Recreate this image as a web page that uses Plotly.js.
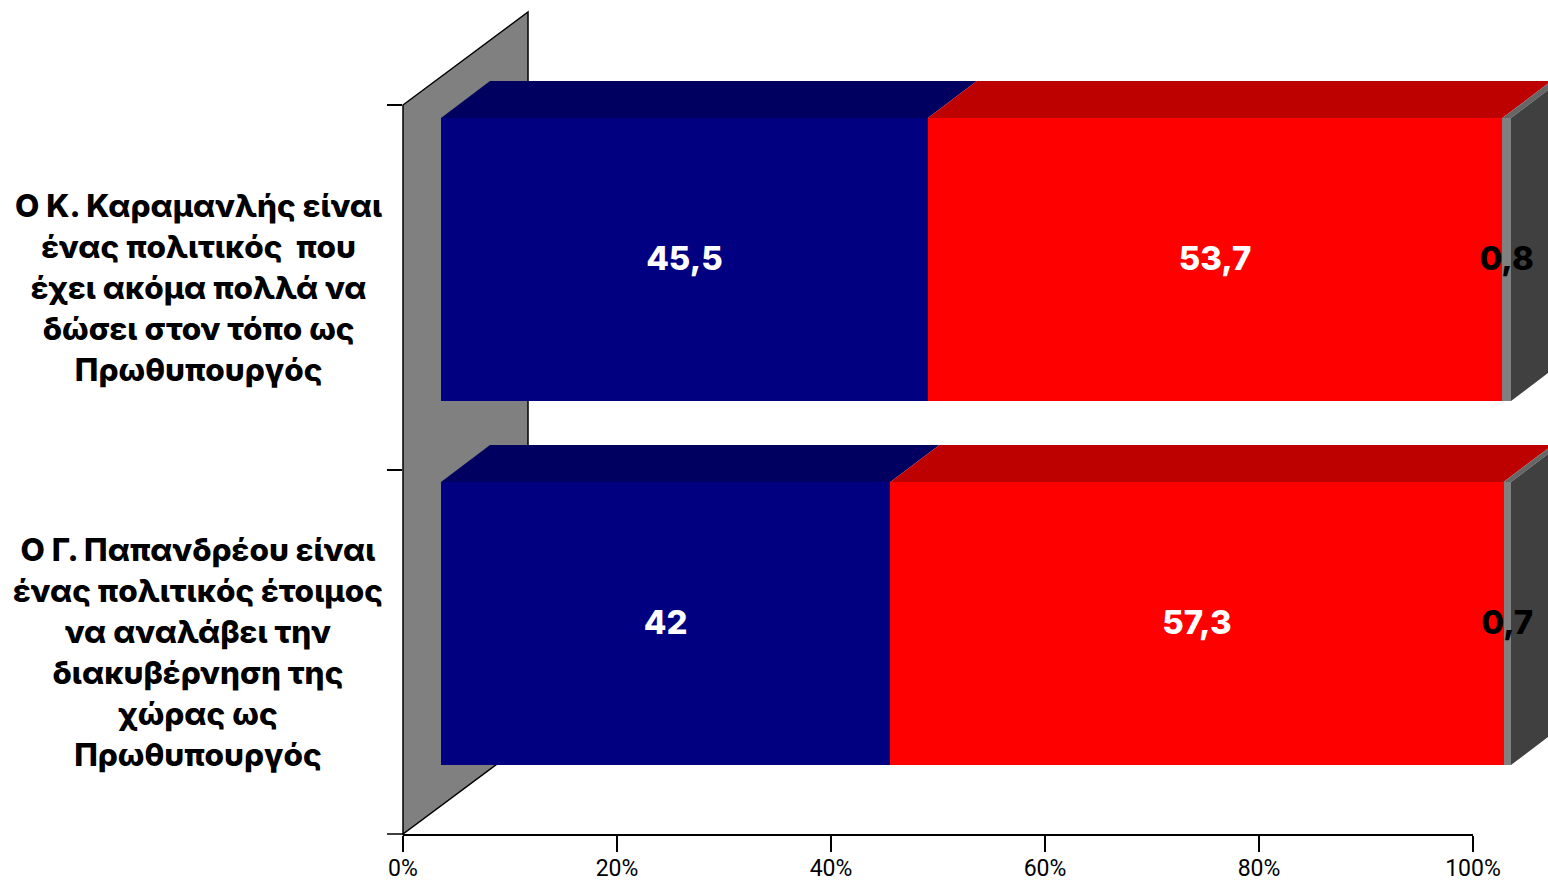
<!DOCTYPE html>
<html>
<head>
<meta charset="utf-8">
<script src="https://cdn.plot.ly/plotly-3.0.1.min.js"></script>
<style>html,body{margin:0;padding:0;background:#fff;overflow:hidden}</style>
</head>
<body>
<div id="chart" style="width:1548px;height:881px"></div>
<script>
// ---- data ----
var categories = [
  "Ο Κ. Καραμανλής είναι<br>ένας πολιτικός  που<br>έχει ακόμα πολλά να<br>δώσει στον τόπο ως<br>Πρωθυπουργός",
  "Ο Γ. Παπανδρέου είναι<br>ένας πολιτικός έτοιμος<br>να αναλάβει την<br>διακυβέρνηση της<br>χώρας ως<br>Πρωθυπουργός"
];
var seriesBlue = [45.5, 42];
var seriesRed  = [53.7, 57.3];
var seriesGrey = [0.8, 0.7];
var tickValues = [0, 20, 40, 60, 80, 100];

// ---- geometry / style ----
var W = 1548, H = 881;
var pxPerPct = 10.7, pxPerCat = 364;
var frontX0 = 441, frontY0 = 259.5;
var depthX = 49 / pxPerPct, depthY = 37 / pxPerCat;
var barW = 283 / pxPerCat;
var labelNudge = 2.5 / pxPerCat;
var FONT = 'Inter, "DejaVu Sans", sans-serif';
var TICKFONT = 'Roboto, "Noto Sans", sans-serif';
var colors = [
  {front: '#000080', top: '#000060', name: 'blue'},
  {front: '#FF0000', top: '#BD0000', name: 'red'},
  {front: '#808080', top: '#666666', name: 'grey'}
];
var seriesAll = [seriesBlue, seriesRed, seriesGrey];
var yIdx = categories.map(function (_, i) { return i; });

var traces = [];
traces.push({type: 'scatter', mode: 'markers', x: tickValues.slice(0, 2), y: categories,
  xaxis: 'x', yaxis: 'y', marker: {opacity: 0}, hoverinfo: 'skip', showlegend: false});

seriesAll.forEach(function (s, k) {
  traces.push({type: 'bar', orientation: 'h', x: s, y: yIdx, width: barW,
    xaxis: 'x2', yaxis: 'y2', marker: {color: colors[k].front, line: {width: 0}},
    hoverinfo: 'x', showlegend: false, name: colors[k].name});
});

function poly(xs, ys, color) {
  traces.push({type: 'scatter', mode: 'lines', x: xs, y: ys, fill: 'toself', fillcolor: color,
    line: {width: 0, color: color}, xaxis: 'x2', yaxis: 'y2', hoverinfo: 'skip', showlegend: false});
}
yIdx.forEach(function (i) {
  var yt = i - barW / 2, yb = i + barW / 2, acc = 0;
  seriesAll.forEach(function (s, k) {
    var a = acc, b = acc + s[i];
    poly([a, a + depthX, b + depthX, b, a], [yt, yt - depthY, yt - depthY, yt, yt], colors[k].top);
    acc = b;
  });
  poly([acc, acc + depthX, acc + depthX, acc, acc],
       [yt, yt - depthY, yb - depthY, yb, yt], '#404040');
});

var lblX = [], lblY = [], lblT = [], lblC = [];
yIdx.forEach(function (i) {
  var acc = 0;
  seriesAll.forEach(function (s, k) {
    lblX.push(acc + s[i] / 2);
    lblY.push(i + labelNudge);
    lblT.push(String(s[i]).replace('.', ','));
    lblC.push(k === 2 ? '#000000' : '#FFFFFF');
    acc += s[i];
  });
});
traces.push({type: 'scatter', mode: 'text', x: lblX, y: lblY, text: lblT, textposition: 'middle center',
  textfont: {family: FONT, size: 33, color: lblC, weight: 800}, xaxis: 'x2', yaxis: 'y2',
  hoverinfo: 'skip', showlegend: false, cliponaxis: false});

function px(x) { return x / W; }
function py(y) { return 1 - y / H; }
var wall = [[403, 105], [528, 12], [528, 741], [403, 834]];
var wallPath = wall.map(function (p, i) { return (i ? 'L' : 'M') + px(p[0]) + ',' + py(p[1]); }).join(' ') + ' Z';

var layout = {
  width: W, height: H, margin: {l: 0, r: 0, t: 0, b: 0},
  paper_bgcolor: '#fff', plot_bgcolor: 'rgba(0,0,0,0)', showlegend: false, barmode: 'stack',
  xaxis: {domain: [px(403), px(1473)], range: [0, 100], anchor: 'y', tickvals: tickValues,
    ticktext: tickValues.map(function (v) { return v + '%'; }), ticks: 'outside', ticklen: 16, tickwidth: 1.5,
    ticklabelstandoff: -3, tickcolor: '#000', showgrid: false, zeroline: false, showline: true,
    linecolor: '#000', linewidth: 1.5, tickfont: {family: TICKFONT, size: 23, color: '#000'}},
  yaxis: {domain: [py(834), py(105)], type: 'category', categoryorder: 'array', categoryarray: categories,
    range: [1.5, -0.5], anchor: 'x', tickson: 'boundaries', ticks: 'outside', ticklen: 15, tickwidth: 1.5,
    tickcolor: '#000', showticklabels: false, showgrid: false, zeroline: false, showline: false},
  xaxis2: {domain: [0, 1], range: [-frontX0 / pxPerPct, (W - frontX0) / pxPerPct], anchor: 'y2', visible: false},
  yaxis2: {domain: [0, 1], range: [(H - frontY0) / pxPerCat, -frontY0 / pxPerCat], anchor: 'x2', visible: false},
  shapes: [
    {type: 'path', xref: 'paper', yref: 'paper', path: wallPath, fillcolor: '#808080',
      line: {color: '#000', width: 1.5}, layer: 'below'},
    {type: 'line', xref: 'paper', yref: 'paper', x0: px(387), x1: px(403), y0: py(834), y1: py(834),
      line: {color: '#000', width: 1.5}, layer: 'above'}
  ],
  annotations: categories.map(function (c, i) {
    return {xref: 'paper', yref: 'y', x: px(198), y: i, text: c, showarrow: false, align: 'center',
      xanchor: 'center', yanchor: 'middle', font: {family: FONT, size: 31.5, color: '#000', weight: 800}};
  })
};
Plotly.newPlot('chart', traces, layout, {displayModeBar: false, responsive: false});
</script>
</body>
</html>
